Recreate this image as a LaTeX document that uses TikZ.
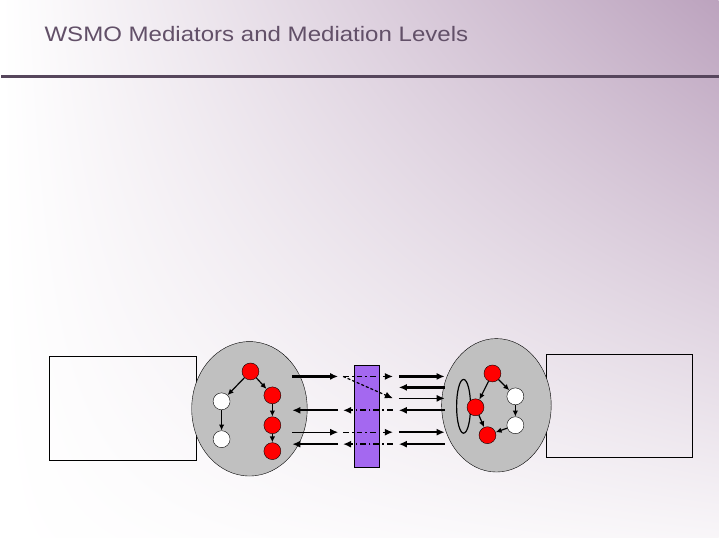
\documentclass[tikz,border=0pt]{standalone}
\usepackage{fontspec}
\setmainfont{Liberation Sans}
\newfontfamily\titlefont[FakeStretch=1.15]{Liberation Sans}
\usetikzlibrary{shapes.geometric,arrows.meta,positioning,calc,shadings}
\definecolor{mauve}{RGB}{188,163,190}
\definecolor{titlegray}{RGB}{98,80,104}
\definecolor{rulepurple}{RGB}{86,70,92}
\definecolor{sysgray}{RGB}{192,192,192}
\definecolor{medpurple}{RGB}{164,104,240}

\begin{document}
\begin{tikzpicture}[x=1pt, y=-1pt,
  sys/.style={ellipse, draw, fill=sysgray, inner sep=0pt},
  frame/.style={rectangle, draw, line width=1pt, inner sep=0pt,
                minimum width=147pt, minimum height=104pt},
  rnode/.style={circle, draw, fill=red, minimum size=17pt, inner sep=0pt},
  wnode/.style={circle, draw, fill=white, minimum size=17pt, inner sep=0pt},
  link/.style={-{Latex[length=6pt,width=5.5pt]}, line width=1.2pt},
  msg/.style={-{Latex[length=8pt,width=7pt]}, line width=2.4pt},
  thinmsg/.style={-{Latex[length=8pt,width=7pt]}, line width=1.2pt},
  mapped/.style={dash pattern=on 6pt off 3pt on 1.5pt off 3pt}
]

% background and title
\shade[upper left=white, upper right=mauve, lower left=white, lower right=mauve!10]
  (0,0) rectangle (720,540);
\node[anchor=base west, inner sep=0pt, text=titlegray,
      font=\titlefont\fontsize{21}{25}\selectfont] (title) at (43,42)
  {WSMO Mediators and Mediation Levels};
\draw[rulepurple, line width=3pt] (0,77) -- (720,77);

% the two sides
\node[frame] (lframe) at (122,410) {};
\node[frame, minimum height=103pt] (rframe) at (620.5,407.5) {};
\node[sys, minimum width=116pt, minimum height=135pt] (lsys) at (249,410.5) {};
\node[sys, minimum width=110pt, minimum height=134pt] (rsys) at (497,407) {};

% mediator
\node[draw, fill=medpurple, minimum width=25pt, minimum height=102pt,
      inner sep=0pt] (med) at (366.5,418) {};

% end points of the message rows
\foreach \r/\y in {1/378,2/389,3/400,4/412,5/434,6/446} {
  \coordinate (a\r) at (292,\y);
  \coordinate (b\r) at (338,\y);
  \coordinate (c\r) at (343,\y);
  \coordinate (d\r) at (393,\y);
  \coordinate (e\r) at (399,\y);
  \coordinate (f\r) at (445,\y);
}

% left side to mediator
\draw[msg] (a1) -- (b1);
\draw[msg] (b4) -- (a4);
\draw[thinmsg] (a5) -- (b5);
\draw[msg] (b6) -- (a6);

% through the mediator
\draw[thinmsg, mapped] (c1) -- (d1);
\draw[thinmsg, dash pattern=on 3pt off 2pt] (c1) -- (d3);
\draw[msg, mapped] (d4) -- (c4);
\draw[thinmsg, mapped] (c5) -- (d5);
\draw[msg, mapped] (d6) -- (c6);

% mediator to right side
\draw[msg] (e1) -- (f1);
\draw[msg] (f2) -- (e2);
\draw[thinmsg] (e3) -- (f3);
\draw[msg] (f4) -- (e4);
\draw[msg] (e5) -- (f5);
\draw[msg] (f6) -- (e6);

% left process
\node[rnode] (l1) at (250,373) {};
\node[wnode] (lw1) at (221,403) {};
\node[wnode] (lw2) at (221,441) {};
\node[rnode] (l2) at (272,397) {};
\node[rnode] (l3) at (272,427) {};
\node[rnode] (l4) at (272,453) {};
\draw[link] (l1) -- (lw1);
\draw[link] (l1) -- (l2);
\draw[link] (lw1) -- (lw2);
\draw[link] (l2) -- (l3);
\draw[link] (l3) -- (l4);

% right process
\draw[line width=1.2pt] (464,408) ellipse (7pt and 27pt);
\node[rnode] (r1) at (493,375) {};
\node[rnode] (r2) at (476,409) {};
\node[rnode] (r3) at (488,437) {};
\node[wnode] (rw1) at (516,398) {};
\node[wnode] (rw2) at (516,427) {};
\draw[link] (r1) -- (r2);
\draw[link] (r1) -- (rw1);
\draw[link] (rw1) -- (rw2);
\draw[link] (rw2) -- (r3);
\draw[link] (r2) -- (r3);

\end{tikzpicture}
\end{document}
